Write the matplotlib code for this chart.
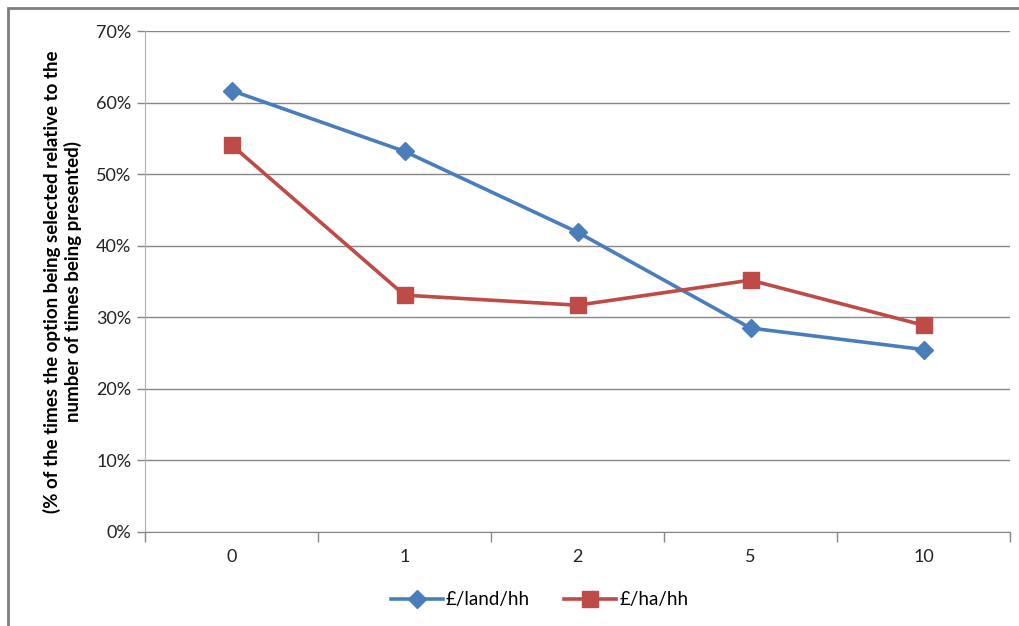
import numpy as np
import matplotlib.pyplot as plt
from matplotlib.patches import Rectangle

plt.rcParams['font.family'] = ['Lato', 'DejaVu Sans']

# data
categories = ['0', '1', '2', '5', '10']
land_hh = [0.617, 0.532, 0.419, 0.285, 0.255]
ha_hh = [0.541, 0.331, 0.317, 0.352, 0.289]

blue = '#4A7EBB'
red = '#BE4B48'
grey = '#868686'

fig = plt.figure(figsize=(10.2, 6.26), dpi=100)
ax = fig.add_axes([0.1422, 0.1502, 0.848, 0.800])

x = np.arange(len(categories))
ax.plot(x, land_hh, color=blue, lw=2.6, marker='D', ms=9, label='£/land/hh', zorder=3)
ax.plot(x, ha_hh, color=red, lw=2.6, marker='s', ms=12, label='£/ha/hh', zorder=3)

ax.set_xlim(-0.5, len(categories) - 0.5)
ax.set_ylim(0, 0.7)
ax.set_yticks(np.arange(0, 0.71, 0.1))
ax.set_yticklabels([f'{int(round(v * 100))}%' for v in np.arange(0, 0.71, 0.1)], fontsize=13, color='#222222')
ax.yaxis.grid(True, color=grey, lw=1)
ax.set_axisbelow(True)

# category labels in the middle, tick marks between categories
ax.set_xticks(x)
ax.set_xticklabels(categories, fontsize=13, color='#222222')
ax.tick_params(axis='x', length=0, pad=12)
ax.set_xticks(np.arange(-0.5, len(categories)), minor=True)
ax.tick_params(axis='x', which='minor', length=7, color=grey, width=1)
ax.tick_params(axis='y', length=6, color=grey, width=1, pad=4)

for side in ['top', 'right']:
    ax.spines[side].set_visible(False)
ax.spines['left'].set_color('#b0b0b0')
ax.spines['bottom'].set_color(grey)

ax.set_ylabel('(% of the times the option being selected relative to the\nnumber of times being presented)',
              fontsize=13.5, fontweight='bold', labelpad=10)

ax.legend(loc='center', bbox_to_anchor=(0.456, -0.135), ncol=2, frameon=False,
          fontsize=13.5, handlelength=2.8, columnspacing=1.8, handletextpad=0.15)

# outer frame
fig.patches.append(Rectangle((8 / 1020, -0.1), 1.2, 1 - 8 / 626 + 0.1, transform=fig.transFigure,
                             fill=False, edgecolor='#7f7f7f', lw=2))

fig.savefig('out.png', dpi=100)
